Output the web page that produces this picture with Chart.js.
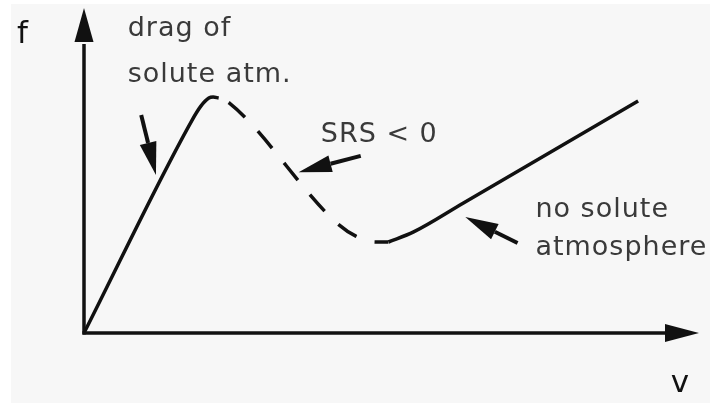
<!DOCTYPE html>
<html>
<head>
<meta charset="utf-8">
<script src="https://cdn.jsdelivr.net/npm/chart.js@4/dist/chart.umd.min.js"></script>
<style>
    html, body { margin: 0; padding: 0; background: #ffffff; }
    #wrap { width: 710px; height: 403px; position: relative; }
</style>
</head>
<body>
<div id="wrap"><canvas id="mainChart" width="710" height="403"></canvas></div>
<script>
// Curve pieces (v, f), axis units 0..10
const risingV = [0, 1.74, 1.90, 2.03, 2.10, 2.19];
const risingF = [0, 6.49, 6.98, 7.23, 7.26, 7.23];

const unstableV = [2.19, 2.36, 4.09, 4.42, 4.74, 4.95];
const unstableF = [7.23, 7.08, 3.42, 2.98, 2.80, 2.80];

const freeV = [4.95, 5.36, 6.17, 9.01];
const freeF = [2.80, 3.11, 4.00, 7.14];

// Labels and pointer arrows, in the same axis units
const labelText = ['drag of', 'solute atm.', 'SRS < 0', 'no solute', 'atmosphere'];
const labelV = [0.71, 0.71, 3.85, 7.34, 7.34];
const labelF = [9.14, 7.72, 5.88, 3.57, 2.40];

const arrowFromV = [0.93, 4.50, 7.05];
const arrowFromF = [6.71, 5.45, 2.77];
const arrowToV = [1.17, 3.49, 6.20];
const arrowToF = [4.86, 4.95, 3.57];

const axisNames = ['f', 'v'];

const toPoints = (xs, ys) => xs.map((x, i) => ({ x: x, y: ys[i] }));

function arrowHead(ctx, x1, y1, x2, y2, len, half) {
    const a = Math.atan2(y2 - y1, x2 - x1);
    const bx = x2 - Math.cos(a) * len;
    const by = y2 - Math.sin(a) * len;
    ctx.beginPath();
    ctx.moveTo(x2, y2);
    ctx.lineTo(bx + Math.sin(a) * half, by - Math.cos(a) * half);
    ctx.lineTo(bx - Math.sin(a) * half, by + Math.cos(a) * half);
    ctx.closePath();
    ctx.fill();
    return { x: bx, y: by };
}

const paperPlugin = {
    id: 'paper',
    beforeDraw(chart) {
        const ctx = chart.ctx;
        ctx.save();
        ctx.fillStyle = '#f7f7f7';
        ctx.fillRect(11, 4, chart.width - 11, chart.height - 4);
        ctx.restore();
    }
};

const sketchPlugin = {
    id: 'sketch',
    afterDatasetsDraw(chart) {
        const ctx = chart.ctx;
        const xs = chart.scales.x;
        const ys = chart.scales.y;
        const ox = xs.getPixelForValue(0);
        const oy = ys.getPixelForValue(0);
        const top = ys.getPixelForValue(ys.max);
        const right = xs.getPixelForValue(xs.max);

        ctx.save();
        ctx.strokeStyle = '#111';
        ctx.fillStyle = '#111';
        ctx.lineWidth = 3.5;

        // axes with arrow heads
        let b = arrowHead(ctx, ox, oy, ox, top, 34, 9.5);
        ctx.beginPath();
        ctx.moveTo(ox, oy + 1.5);
        ctx.lineTo(ox, b.y + 2);
        ctx.stroke();
        b = arrowHead(ctx, ox, oy, right, oy, 34, 9);
        ctx.beginPath();
        ctx.moveTo(ox - 1.5, oy);
        ctx.lineTo(b.x + 2, oy);
        ctx.stroke();

        // pointer arrows
        ctx.lineWidth = 4;
        arrowFromV.forEach((v, i) => {
            const x1 = xs.getPixelForValue(v);
            const y1 = ys.getPixelForValue(arrowFromF[i]);
            const x2 = xs.getPixelForValue(arrowToV[i]);
            const y2 = ys.getPixelForValue(arrowToF[i]);
            const base = arrowHead(ctx, x1, y1, x2, y2, 33, 8.5);
            ctx.beginPath();
            ctx.moveTo(x1, y1);
            ctx.lineTo(base.x, base.y);
            ctx.stroke();
        });

        // annotation text
        ctx.fillStyle = '#3a3a3a';
        ctx.textBaseline = 'alphabetic';
        ctx.textAlign = 'left';
        ctx.font = '27px "DejaVu Sans"';
        ctx.letterSpacing = '1px';
        labelText.forEach((t, i) => {
            ctx.fillText(t, xs.getPixelForValue(labelV[i]), ys.getPixelForValue(labelF[i]));
        });

        // axis names
        ctx.fillStyle = '#111';
        ctx.letterSpacing = '0px';
        ctx.font = '31px "DejaVu Sans"';
        ctx.fillText(axisNames[0], 17, ys.getPixelForValue(8.92));
        ctx.fillText(axisNames[1], xs.getPixelForValue(9.54), ys.getPixelForValue(-1.82));
        ctx.restore();
    }
};

const lineStyle = {
    showLine: true,
    pointRadius: 0,
    borderColor: '#111',
    borderWidth: 3.5,
    cubicInterpolationMode: 'monotone',
    clip: false
};

new Chart(document.getElementById('mainChart'), {
    type: 'scatter',
    data: {
        datasets: [
            Object.assign({ label: 'drag of solute atm.', data: toPoints(risingV, risingF) }, lineStyle),
            Object.assign({ label: 'SRS < 0', data: toPoints(unstableV, unstableF), borderDash: [22, 19], borderDashOffset: 30 }, lineStyle),
            Object.assign({ label: 'no solute atmosphere', data: toPoints(freeV, freeF) }, lineStyle)
        ]
    },
    options: {
        responsive: false,
        animation: false,
        layout: { padding: { left: 84, right: 11, top: 8, bottom: 70 } },
        plugins: {
            legend: { display: false },
            tooltip: { enabled: false }
        },
        scales: {
            x: { type: 'linear', min: 0, max: 10, display: false },
            y: { type: 'linear', min: 0, max: 10, display: false }
        }
    },
    plugins: [paperPlugin, sketchPlugin]
});
</script>
</body>
</html>
